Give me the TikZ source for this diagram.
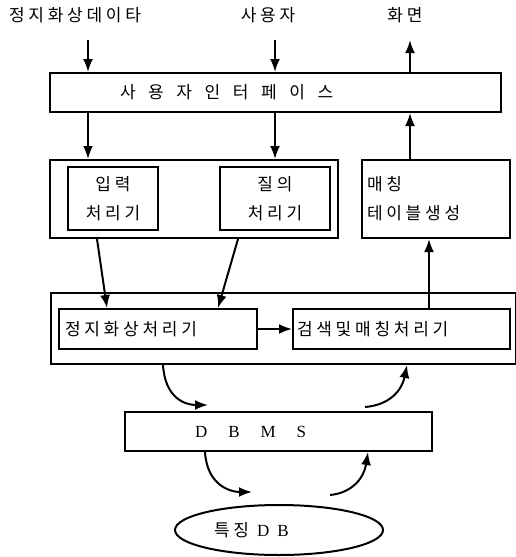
\documentclass[tikz,border=0pt]{standalone}
\usepackage{fontspec}
\setmainfont{Liberation Serif}
\newfontfamily\kr[LetterSpace=22]{Noto Sans CJK KR}
\newfontfamily\krwide[LetterSpace=74]{Noto Sans CJK KR}
\usetikzlibrary{arrows.meta}
\usetikzlibrary{shapes.geometric}

\begin{document}
\begin{tikzpicture}[
    x=1pt, y=-1pt,
    every node/.style={font=\kr\fontsize{17}{20}\selectfont},
    box/.style={draw, line width=2pt, inner sep=0pt},
    arr/.style={line width=2pt, -{Latex[length=13pt, width=10pt]}}
]
    \useasboundingbox (0,0) rectangle (515,557);

    % Inputs and output on top
    \node (still) at (75,15) {정지화상데이타};
    \node (user) at (268,15) {사용자};
    \node (screen) at (405,15) {화면};

    \coordinate (c1) at (88,40);
    \coordinate (c2) at (275,40);
    \coordinate (c3) at (410,40);
    \coordinate (c4) at (429,0);

    % User interface
    \node[box, minimum height=39, inner xsep=70pt, text width=311pt, align=left,
          font=\krwide\fontsize{17}{20}\selectfont] (ui) at (275.5,92.5) {사용자인터페이스};

    \draw[arr] (c1) -- (c1 |- ui.north);
    \draw[arr] (c2) -- (c2 |- ui.north);
    \draw[arr] (c3 |- ui.north) -- (c3);

    % Level 2: input and query processors
    \node[box, minimum width=288, minimum height=78] (front) at (194,199) {};
    \node[box, minimum width=90, minimum height=63, align=center] (input) at (113,198.5) {입력\\[9pt]처리기};
    \node[box, minimum width=110, minimum height=63, align=center] (query) at (275,198.5) {질의\\[9pt]처리기};
    \node[box, minimum height=78, inner xsep=5pt, text width=138pt, align=left] (table) at (436,199) {매칭\\[9pt]테이블생성};

    \draw[arr] (ui.south -| c1) -- (c1 |- front.north);
    \draw[arr] (ui.south -| c2) -- (c2 |- front.north);
    \draw[arr] (table.north -| c3) -- (c3 |- ui.south);

    % Level 3: image and matching processors
    \node[box, minimum width=465, minimum height=71] (engine) at (283.5,328.5) {};
    \node[box, minimum height=40, inner xsep=6pt, text width=186pt, align=left] (image) at (158,329) {정지화상처리기};
    \node[box, minimum height=40, inner xsep=4pt, text width=209pt, align=left] (search) at (401.5,329) {검색및매칭처리기};

    \draw[arr] ([xshift=-16pt]input.south |- front.south) -- ([xshift=-51pt]image.north);
    \draw[arr] ([xshift=-37pt]query.south |- front.south) -- ([xshift=60pt]image.north);
    \draw[arr] (image) -- (search);
    \draw[arr] (search.north -| c4) -- (table.south -| c4);

    % DBMS and feature DB
    \node[box, minimum height=39, inner xsep=70pt, text width=167pt, align=left,
          font=\rmfamily\fontsize{17}{20}\selectfont] (dbms) at (278.5,431.5) {D\hspace{21pt}B\hspace{21pt}M\hspace{21pt}S};
    \node[draw, ellipse, line width=2pt, minimum width=208, minimum height=50, inner sep=0pt,
          text width=130pt, align=left] (featdb) at (279,530) {특징\hspace{8pt}{\rmfamily D\hspace{8pt}B}};

    \coordinate (d1) at (208,405);
    \coordinate (d2) at (365,407);
    \coordinate (d3) at (252,492);
    \coordinate (d4) at (330,495);

    \draw[arr] (engine.south -| 163,0) .. controls (165,398) and (185,405) .. (d1);
    \draw[arr] (d2) .. controls (390,405) and (402,390) .. (engine.south -| 407,0);
    \draw[arr] (dbms.south -| 205,0) .. controls (207,485) and (230,492) .. (d3);
    \draw[arr] (d4) .. controls (352,493) and (364,478) .. (dbms.south -| 368,0);

\end{tikzpicture}
\end{document}
